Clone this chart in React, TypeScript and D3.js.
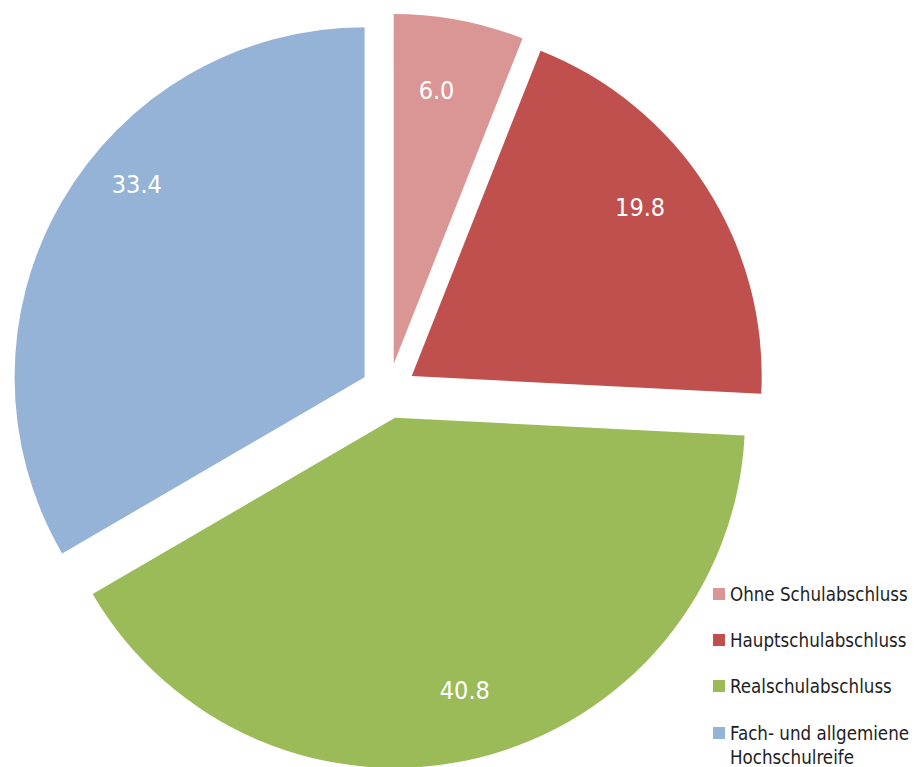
import React from "react";
import * as d3 from "d3";

const categories = ["Ohne Schulabschluss", "Hauptschulabschluss", "Realschulabschluss", "Fach- und allgemiene Hochschulreife"];
const legendLines = [["Ohne Schulabschluss"], ["Hauptschulabschluss"], ["Realschulabschluss"], ["Fach- und allgemiene", "Hochschulreife"]];
const values = [6.0, 19.8, 40.8, 33.4];
const labels = ["6.0", "19.8", "40.8", "33.4"];
const colors = ["#D99694", "#C0504D", "#9BBB59", "#95B3D7"];

// label placement tweaks (layout only): angle shift in degrees, radius
const labelAngleShift = [-1.9, -3.7, -0.7, 10.5];
const labelRadius = [277, 284, 281, 299];

export default function App() {
  const W = 918, H = 767;
  const cx = 388.5, cy = 391, r = 350, explode = 27.6;
  const pie = d3.pie<number>().sort(null).value((d) => d);
  const arcs = pie(values);
  const arc = d3.arc<d3.PieArcDatum<number>>().innerRadius(0).outerRadius(r);
  const font = "'DejaVu Sans Condensed', 'Noto Sans', sans-serif";
  const legendY = [594, 640, 686, 733];
  return (
    <svg width={W} height={H} style={{ position: "absolute", left: 0, top: 0, display: "block" }}>
      <rect width={W} height={H} fill="#fff" />
      {arcs.map((a, i) => {
        const mid = (a.startAngle + a.endAngle) / 2;
        const ox = cx + explode * Math.sin(mid);
        const oy = cy - explode * Math.cos(mid);
        const la = mid + (labelAngleShift[i] * Math.PI) / 180;
        const lx = ox + labelRadius[i] * Math.sin(la);
        const ly = oy - labelRadius[i] * Math.cos(la);
        return (
          <g key={categories[i]}>
            <path d={arc(a) || ""} transform={`translate(${ox},${oy})`} fill={colors[i]} />
            <text x={lx} y={ly} dy="0.36em" textAnchor="middle" fill="#fff" fontFamily={font} fontSize={25}>
              {labels[i]}
            </text>
          </g>
        );
      })}
      {legendLines.map((lines, i) => (
        <g key={"lg" + i}>
          <rect x={713} y={legendY[i] - 6} width={12} height={12} fill={colors[i]} />
          <text x={730} y={legendY[i]} fill="#1e1e1e" fontFamily={font} fontSize={18.6}>
            {lines.map((t, j) => (
              <tspan key={j} x={730} dy={j === 0 ? "0.36em" : "1.3em"}>{t}</tspan>
            ))}
          </text>
        </g>
      ))}
    </svg>
  );
}
